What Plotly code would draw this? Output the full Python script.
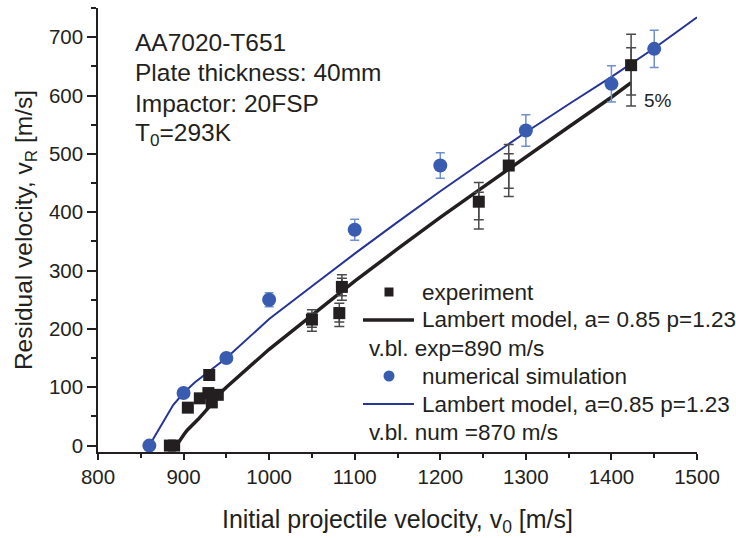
import plotly.graph_objects as go

# ---------------- data ----------------
exp_v0 = [884, 889, 905, 919, 930, 929, 933, 940, 1050, 1082, 1085, 1245, 1280, 1423]
exp_vr = [0, 0, 65, 81, 121, 90, 74, 87, 216, 227, 272, 418, 480, 652]

# experiment error bars (outer and inner)
err_v0 = [1050, 1082, 1085, 1245, 1280, 1423]
err_vr = [216, 227, 272, 418, 480, 652]
err_out_plus = [17, 17, 21, 33, 36, 53]
err_out_minus = [20, 23, 23, 47, 53, 70]
err_in_plus = [11, 9, 15, 16, 20, 30]
err_in_minus = [13, 15, 15, 31, 39, 51]

sim_v0 = [860, 900, 950, 1000, 1100, 1200, 1300, 1400, 1450]
sim_vr = [0, 90, 150, 250, 370, 480, 540, 620, 680]
sim_err = [0, 5, 8, 12, 18, 22, 27, 31, 32]

lam_exp_v0 = [890, 894, 900, 904, 917, 931, 940, 950, 1000, 1050, 1100, 1150, 1200, 1250, 1300, 1350, 1400, 1423]
lam_exp_vr = [0, 5, 18, 26, 45, 68, 86, 100, 165, 224, 282, 337, 391, 443, 495, 546, 597, 622]

lam_num_v0 = [860, 870, 878, 888, 900, 913, 950, 1000, 1050, 1100, 1150, 1200, 1250, 1300, 1350, 1400, 1450, 1500]
lam_num_vr = [0, 25, 45, 70, 90, 108, 150, 217, 273, 329, 383, 436, 487, 537, 585, 632, 681, 734]

x_ticks = [800, 900, 1000, 1100, 1200, 1300, 1400, 1500]
y_ticks = [0, 100, 200, 300, 400, 500, 600, 700]

# ---------------- style ----------------
FONT = "Liberation Sans, Arial, sans-serif"
INK = "#231f20"
BLUE_MK = "#3a5cb0"
BLUE_LN = "#263494"
BLUE_ERR = "#6e8fd2"
GREY_ERR = "#4a4a4a"

fig = go.Figure()

# model lines
fig.add_trace(go.Scatter(x=lam_num_v0, y=lam_num_vr, mode="lines",
                         line=dict(color=BLUE_LN, width=2), showlegend=False))
fig.add_trace(go.Scatter(x=lam_exp_v0, y=lam_exp_vr, mode="lines",
                         line=dict(color=INK, width=3.5), showlegend=False))

# experiment error bars
fig.add_trace(go.Scatter(x=err_v0, y=err_vr, mode="markers",
                         marker=dict(size=1, color="rgba(0,0,0,0)"),
                         error_y=dict(type="data", symmetric=False, array=err_out_plus,
                                      arrayminus=err_out_minus, color=GREY_ERR,
                                      thickness=1.5, width=5),
                         showlegend=False))
fig.add_trace(go.Scatter(x=err_v0, y=err_vr, mode="markers",
                         marker=dict(size=1, color="rgba(0,0,0,0)"),
                         error_y=dict(type="data", symmetric=False, array=err_in_plus,
                                      arrayminus=err_in_minus, color=GREY_ERR,
                                      thickness=1.5, width=5),
                         showlegend=False))

# simulation points with error bars
fig.add_trace(go.Scatter(x=sim_v0, y=sim_vr, mode="markers",
                         marker=dict(symbol="circle", size=14, color=BLUE_MK),
                         error_y=dict(type="data", array=sim_err, color=BLUE_ERR,
                                      thickness=1.5, width=4.5),
                         showlegend=False))

# experiment points
fig.add_trace(go.Scatter(x=exp_v0, y=exp_vr, mode="markers",
                         marker=dict(symbol="square", size=12, color=INK),
                         showlegend=False))

# ---------------- layout ----------------
L, R, T, B = 98, 39, 8, 86
W, H = 736, 538
PW, PH = W - L - R, H - T - B


def px_x(p):
    return (p - L) / PW


def px_y(p):
    return (H - B - p) / PH


annotations = []
# info text
for txt, py in [("AA7020-T651", 42), ("Plate thickness: 40mm", 73),
                ("Impactor: 20FSP", 103), ("T<sub>0</sub>=293K", 134)]:
    annotations.append(dict(text=txt, xref="paper", yref="paper", x=px_x(133), y=px_y(py),
                            xanchor="left", yanchor="middle", showarrow=False,
                            font=dict(family=FONT, size=24.5, color=INK)))
annotations.append(dict(text="5%", xref="paper", yref="paper", x=px_x(642), y=px_y(100),
                        xanchor="left", yanchor="middle", showarrow=False,
                        font=dict(family=FONT, size=19, color=INK)))

# legend text
legend_rows = [("experiment", 420, 292), ("Lambert model, a= 0.85 p=1.23", 420, 320),
               ("v.bl. exp=890 m/s", 367, 348), ("numerical simulation", 420, 376),
               ("Lambert model, a=0.85 p=1.23", 420, 404), ("v.bl. num =870 m/s", 367, 432)]
for txt, px, py in legend_rows:
    annotations.append(dict(text=txt, xref="paper", yref="paper", x=px_x(px), y=px_y(py),
                            xanchor="left", yanchor="middle", showarrow=False,
                            font=dict(family=FONT, size=22.5, color=INK)))

shapes = []
# legend symbols
shapes.append(dict(type="rect", xref="paper", yref="paper",
                   x0=px_x(384.5), x1=px_x(393.5), y0=px_y(296.5), y1=px_y(287.5),
                   fillcolor=INK, line=dict(width=0)))
shapes.append(dict(type="line", xref="paper", yref="paper",
                   x0=px_x(363), x1=px_x(414), y0=px_y(320), y1=px_y(320),
                   line=dict(color=INK, width=3.5)))
shapes.append(dict(type="circle", xref="paper", yref="paper",
                   x0=px_x(383.5), x1=px_x(394.5), y0=px_y(381.5), y1=px_y(370.5),
                   fillcolor=BLUE_MK, line=dict(width=0)))
shapes.append(dict(type="line", xref="paper", yref="paper",
                   x0=px_x(363), x1=px_x(414), y0=px_y(404), y1=px_y(404),
                   line=dict(color=BLUE_LN, width=2)))

axis_common = dict(showgrid=False, zeroline=False, showline=True, linecolor=INK,
                   linewidth=1.5, ticks="outside", tickcolor=INK, tickwidth=1.5,
                   tickfont=dict(family=FONT, size=20.5, color=INK), mirror=False)

fig.update_layout(
    width=W, height=H,
    margin=dict(l=L, r=R, t=T, b=B),
    paper_bgcolor="white", plot_bgcolor="white",
    showlegend=False,
    annotations=annotations,
    shapes=shapes,
    xaxis=dict(range=[800, 1500], tickvals=x_ticks, ticklen=6,
               title=dict(text="Initial projectile velocity, v<sub>0</sub> [m/s]",
                          font=dict(family=FONT, size=25, color=INK), standoff=23),
               minor=dict(dtick=50, tick0=800, ticklen=4, tickcolor=INK, tickwidth=1.5, ticks="outside"),
               **axis_common),
    yaxis=dict(range=[-11, 750], tickvals=y_ticks, ticklen=9,
               title=dict(text="Residual velocity, v<sub>R</sub> [m/s]",
                          font=dict(family=FONT, size=24.5, color=INK), standoff=9),
               minor=dict(dtick=50, tick0=0, ticklen=5, tickcolor=INK, tickwidth=1.5, ticks="outside"),
               **axis_common),
)

fig.write_html("out.html")
